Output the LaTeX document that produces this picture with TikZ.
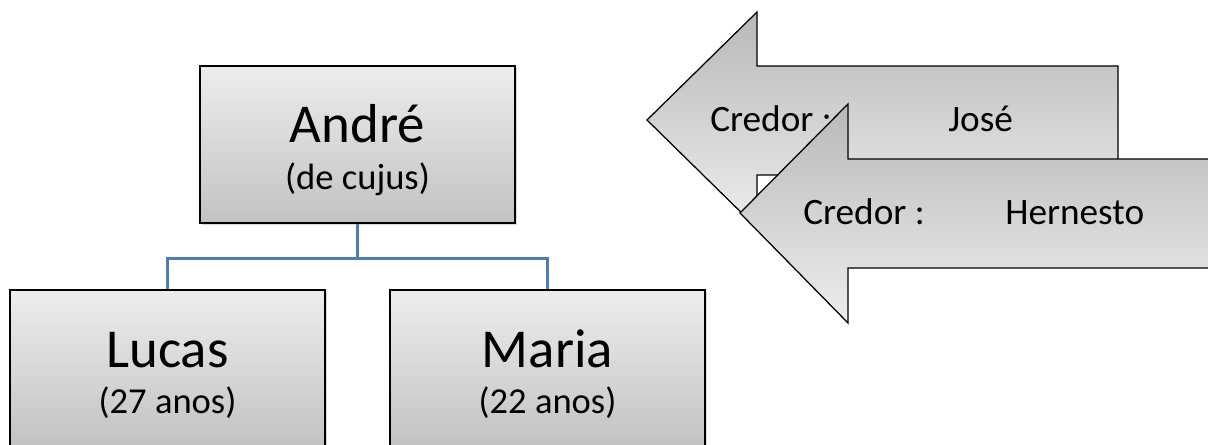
\documentclass[tikz,border=0pt]{standalone}
\usepackage{fontspec}
\setmainfont{Carlito}
\usepackage{xcolor}
\usepackage{tikz}
\usetikzlibrary{calc, shadows, positioning}

\definecolor{azulLinha}{HTML}{4A7EBB}
\definecolor{cinzaClaro}{HTML}{EDEDED}
\definecolor{cinzaEscuro}{HTML}{C2C2C2}

\tikzset{
    caixa/.style={draw=black, line width=0.9pt, minimum width=7.875cm, minimum height=3.925cm,
        top color=cinzaClaro, bottom color=cinzaEscuro, align=center,
        font=\fontsize{26}{33}\selectfont,
        drop shadow={shadow xshift=1.2pt, shadow yshift=-1.2pt, opacity=0.3}},
    ligacao/.style={draw=azulLinha, line width=2pt},
    seta/.style={draw=black, line width=0.9pt, top color=cinzaEscuro!95!black, bottom color=cinzaClaro},
    rotulo/.style={inner sep=0pt, anchor=base west, font=\fontsize{26.5}{30}\selectfont}
}
\newcommand{\grande}[1]{{\fontsize{39}{33}\selectfont\rule{0pt}{35pt}#1}}

\begin{document}
\begin{tikzpicture}[x=0.025cm, y=-0.025cm]
    \useasboundingbox (0,0) rectangle (1208,445);

    % 1. Caixas da arvore
    \node[caixa] (andre) at (357.5,144.5) {\grande{André}\\(de cujus)};
    \node[caixa] (lucas) at (167.5,368.5) {\grande{Lucas}\\(27 anos)};
    \node[caixa] (maria) at (547.5,368.5) {\grande{Maria}\\(22 anos)};

    % 2. Ligacoes
    \draw[ligacao] (andre.south) -- ++(0,35) -| (lucas.north);
    \draw[ligacao] (andre.south) -- ++(0,35) -| (maria.north);

    % 3. Seta de tras (Jose)
    \draw[seta] (647,120) -- (757,12) -- (757,66) -- (1118,66) -- (1118,175)
        -- (757,175) -- (757,228) -- cycle;
    \node[rotulo] (credorJose) at (710,132) {Credor :};
    \node[rotulo] (jose) at (948,132) {José};

    % 4. Seta da frente (Hernesto)
    \draw[seta] (740,213) -- (848,104) -- (848,159) -- (1215,159) -- (1215,268)
        -- (848,268) -- (848,323) -- cycle;
    \node[rotulo] (credorHernesto) at (803,225) {Credor :};
    \node[rotulo] (hernesto) at (1005,225) {Hernesto};
\end{tikzpicture}
\end{document}
